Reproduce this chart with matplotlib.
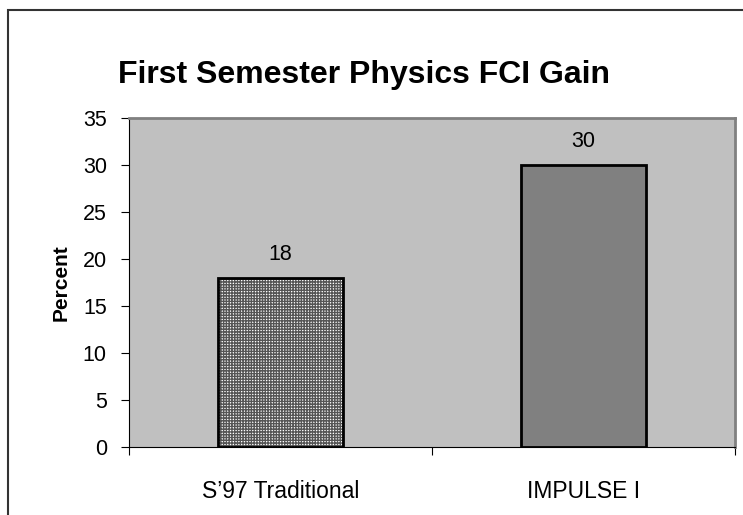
import matplotlib.pyplot as plt
from matplotlib.patches import Rectangle

categories = ["S\u201997 Traditional", "IMPULSE I"]
gains = [18, 30]

plt.rcParams['font.family'] = ['Liberation Sans', 'DejaVu Sans']

fig = plt.figure(figsize=(7.43, 5.15), dpi=100)
ax = fig.add_axes([129/743, 68/515, 606/743, 329/515])
ax.set_facecolor('#c0c0c0')

x = list(range(len(categories)))
w = 0.41
# hatched first bar, solid second
ax.bar(x[0], gains[0], width=w, color='white', edgecolor='#555555', hatch='++++++', linewidth=0, zorder=2)
ax.bar(x[1], gains[1], width=w, color='#808080', linewidth=0, zorder=2)
ax.bar(x, gains, width=w, fill=False, edgecolor='black', linewidth=2, zorder=3)

for xi, v in zip(x, gains):
    ax.text(xi, v + 1.4, str(v), ha='center', va='bottom', fontsize=15.5)

ax.set_xlim(-0.5, 1.5)
ax.set_ylim(0, 35)
ax.set_yticks(range(0, 36, 5))
ax.set_xticks([-0.5, 0.5, 1.5])
ax.set_xticklabels([])
ax.set_xticks(x, minor=True)
ax.set_xticklabels(categories, minor=True, fontsize=16.5)
ax.tick_params(axis='x', which='minor', length=0, pad=24)
ax.tick_params(axis='x', which='major', length=6, direction='out', color='black')
ax.tick_params(axis='y', length=6, direction='out', labelsize=15.5, pad=10)

for s in ['top', 'right']:
    ax.spines[s].set_color('#808080')
    ax.spines[s].set_linewidth(2)
ax.spines['left'].set_color('black')
ax.spines['bottom'].set_color('black')

ax.set_ylabel('Percent', fontsize=15, fontweight='bold', labelpad=9)
fig.text(364/743, 1 - 75/515, 'First Semester Physics FCI Gain', ha='center', va='center',
         fontsize=23, fontweight='bold')

# outer chart border
fig.patches.append(Rectangle((8/743, -0.1), 1.2, 1.1 - 10/515, transform=fig.transFigure,
                             fill=False, edgecolor='#333333', linewidth=1.5, clip_on=False))

fig.savefig('out.png', dpi=100)
